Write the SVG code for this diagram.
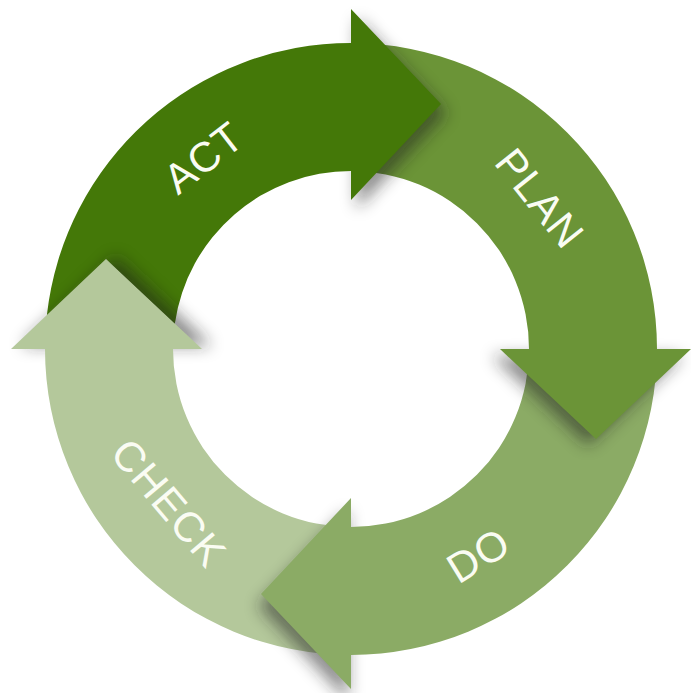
<svg xmlns="http://www.w3.org/2000/svg" width="691" height="693" viewBox="0 0 691 693">
<style>
.lbl{font-family:"Liberation Sans",Arial,Helvetica,sans-serif;font-size:42px;letter-spacing:1px;fill:#fafcf3;text-anchor:middle}
.sh{fill:#1e1e1e;opacity:.5;filter:url(#blur)}
</style>
<defs>
<filter id="blur" x="-50%" y="-50%" width="200%" height="200%"><feGaussianBlur stdDeviation="8"/></filter>
<clipPath id="actClip"><path d="M46.9,315 A306,306 0 0 1 351,43 L351,171 A178,178 0 0 0 174.8,323.5 L106,259 Z"/></clipPath>
</defs>
<rect width="691" height="693" fill="#ffffff"/>
<g id="check">
<polygon class="sh" points="11,349 106,259 202,349" transform="translate(10,-3)"/>
<path d="M351,655 A306,306 0 0 1 45,349 L11,349 L106,259 L202,349 L173,349 A178,178 0 0 0 351,527 Z" fill="#b4c89b"/>
<text class="lbl" x="351" y="602" transform="rotate(49.8 351 349)">CHECK</text>
</g>
<g id="do">
<polygon class="sh" points="351,689 261,594 351,498" transform="translate(-3,12)"/>
<path d="M657,349 A306,306 0 0 1 351,655 L351,689 L261,594 L351,498 L351,527 A178,178 0 0 0 529,349 Z" fill="#8bab65"/>
<text class="lbl" x="351" y="606" transform="rotate(-31.7 351 349)">DO</text>
</g>
<g id="plan">
<polygon class="sh" points="691,349 596,439 500,349" transform="translate(-8,7)"/>
<path d="M351,43 A306,306 0 0 1 657,349 L691,349 L596,439 L500,349 L529,349 A178,178 0 0 0 351,171 Z" fill="#6b9437"/>
<text class="lbl" x="351" y="122" transform="rotate(51.4 351 349)">PLAN</text>
</g>
<g id="act">
<polygon class="sh" points="351,9 441,104 351,200" transform="translate(6,9)"/>
<path d="M46.9,315 A306,306 0 0 1 351,43 L351,9 L441,104 L351,200 L351,171 A178,178 0 0 0 174.8,323.5 L106,259 Z" fill="#447808"/>
<g clip-path="url(#actClip)"><polygon class="sh" points="11,349 106,259 202,349" transform="translate(10,-3)"/></g>
<text class="lbl" x="351" y="122" transform="rotate(-37.6 351 349)">ACT</text>
</g>
</svg>
